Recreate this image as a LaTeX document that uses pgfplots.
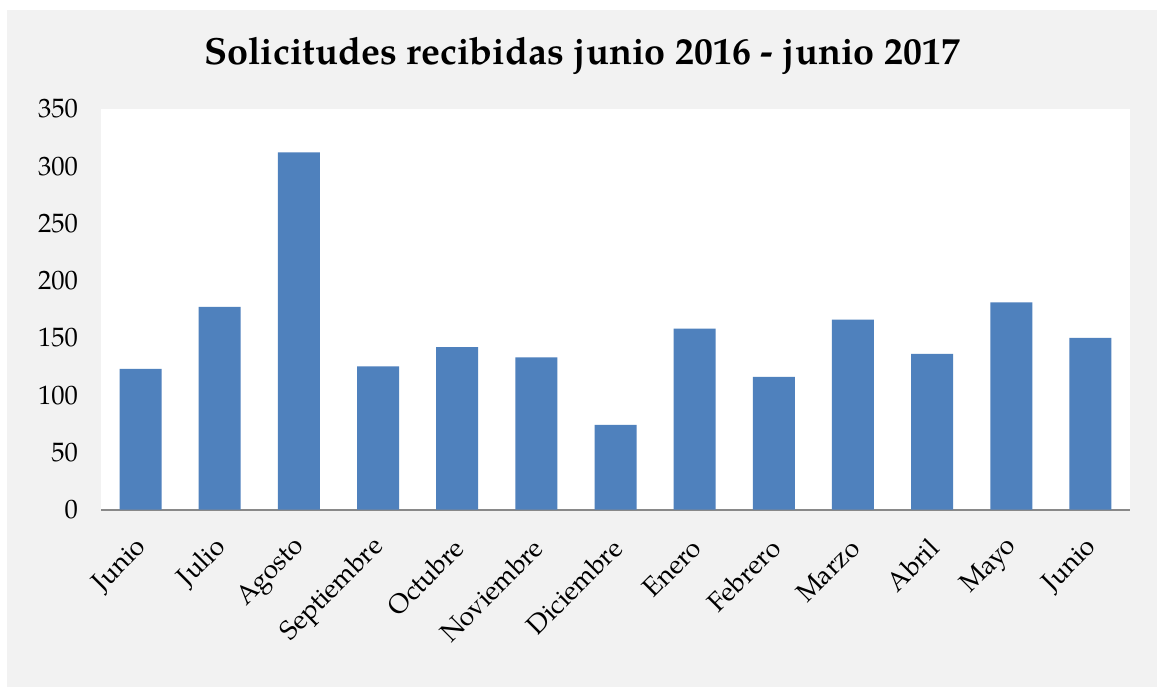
\documentclass[border=0pt]{standalone}
\usepackage{pgfplots}
\pgfplotsset{compat=1.18}
\usepackage{fontspec}
\setmainfont{TeX Gyre Pagella}
\definecolor{bg}{HTML}{F2F2F2}
\definecolor{barblue}{HTML}{4F81BD}
\definecolor{axisgray}{HTML}{898989}
\begin{document}
\begin{tikzpicture}
\path[use as bounding box] (0pt,0pt) rectangle (578.5pt,343.5pt);
\fill[white] (0pt,0pt) rectangle (578.5pt,343.5pt);
\fill[bg] (3.5pt,0pt) rectangle (578.5pt,338.5pt);
\node[anchor=base, font=\bfseries\fontsize{18.9}{22}\selectfont] at (291pt,311pt) {Solicitudes recibidas junio 2016 - junio 2017};
\begin{axis}[
  at={(50.5pt,88.75pt)}, anchor=south west,
  width=514.5pt, height=200.25pt, scale only axis,
  axis background/.style={fill=white},
  ybar, bar width=21pt,
  xmin=-0.5, xmax=12.5, ymin=0, ymax=350,
  ytick={0,50,...,350},
  xtick={0,...,12},
  xticklabels={Junio,Julio,Agosto,Septiembre,Octubre,Noviembre,Diciembre,Enero,Febrero,Marzo,Abril,Mayo,Junio},
  axis x line*=bottom, axis y line*=left,
  y axis line style={draw=none},
  x axis line style={draw=axisgray, line width=1pt, -},
  major tick length=0pt,
  tick label style={font=\fontsize{13.3}{15}\selectfont},
  /pgf/number format/assume math mode=true,
  yticklabel style={anchor=east, xshift=-8pt},
  xticklabel style={xshift=3.5pt, yshift=-14.5pt, rotate=45, anchor=east},
]
\addplot[fill=barblue, draw=none] coordinates {
(0,123) (1,177) (2,312) (3,125) (4,142) (5,133) (6,74) (7,158) (8,116) (9,166) (10,136) (11,181) (12,150)
};
\end{axis}
\end{tikzpicture}
\end{document}
